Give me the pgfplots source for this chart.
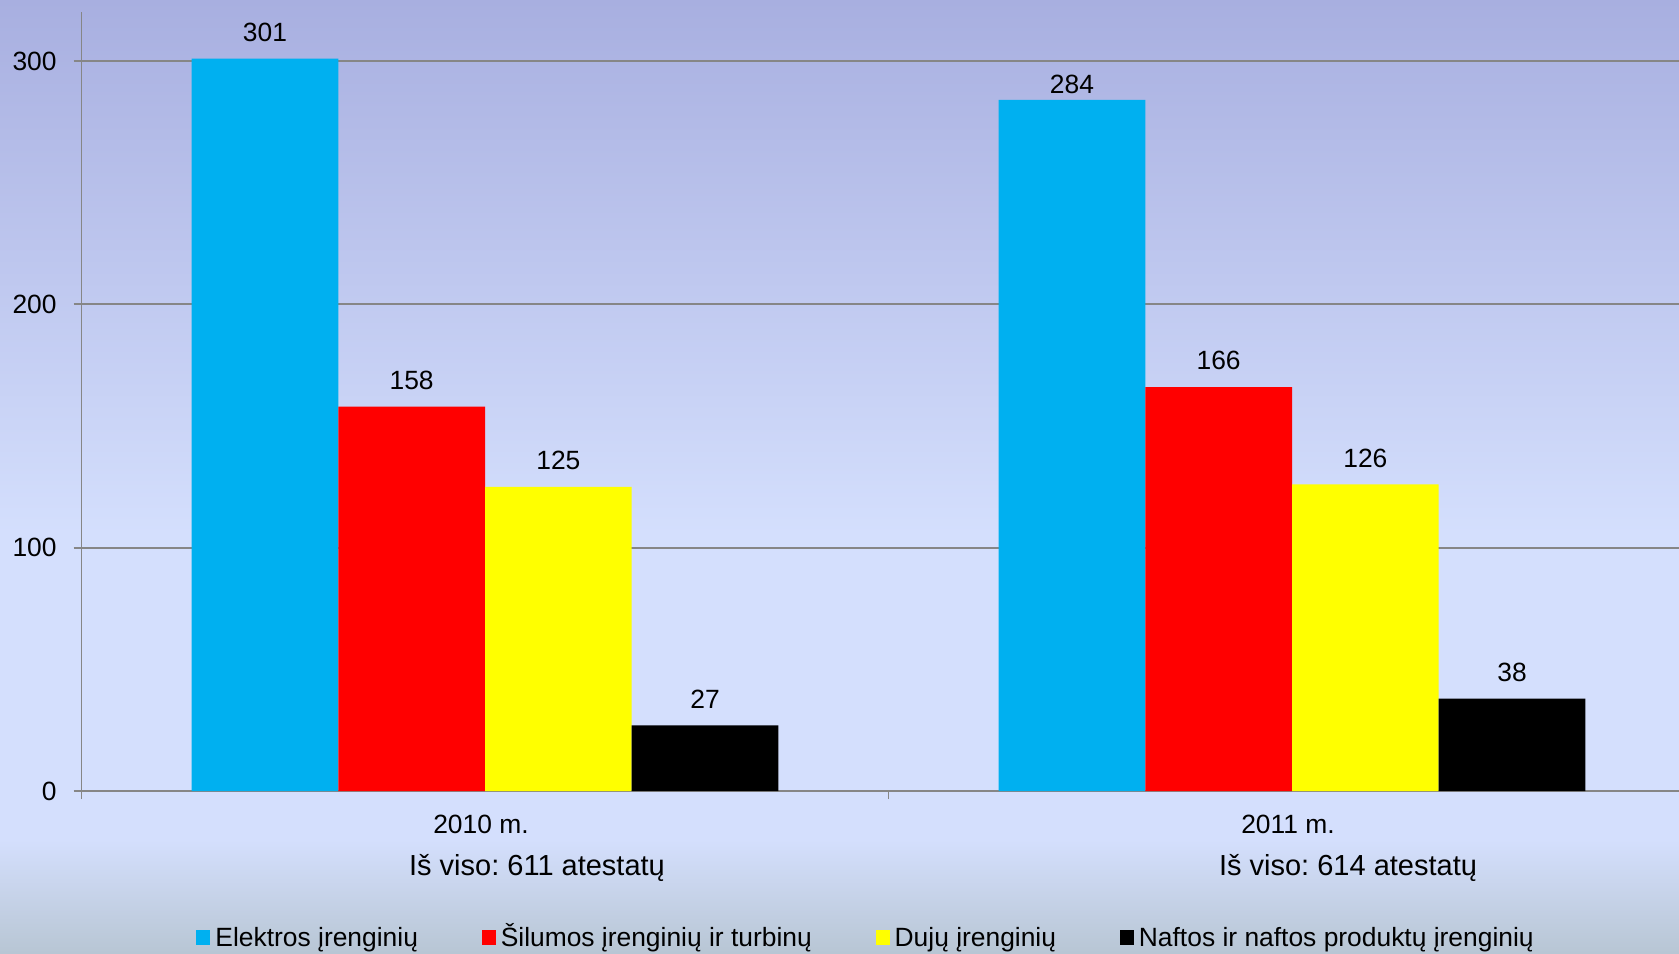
\documentclass[border=0pt]{standalone}
\usepackage{fontspec}
\setmainfont{Liberation Sans}
\usepackage{pgfplots}
\pgfplotsset{compat=1.18}
\definecolor{cBlue}{HTML}{00B0F0}
\definecolor{cRed}{HTML}{FF0000}
\definecolor{cYellow}{HTML}{FFFF00}
\definecolor{cBlack}{HTML}{000000}
\definecolor{bgTop}{RGB}{168,175,224}
\definecolor{bgMid}{RGB}{212,223,253}
\definecolor{bgBot}{RGB}{184,198,212}
\definecolor{gridgray}{RGB}{134,134,134}
\newcommand{\fs}{\fontsize{13.2}{15.8}\selectfont}
\newcommand{\fb}{\fontsize{14.5}{17.4}\selectfont}
\frenchspacing
\begin{document}
\frenchspacing
\begin{tikzpicture}
\useasboundingbox (0,0) rectangle (839.5pt,476.5pt);
\shade[top color=bgTop, bottom color=bgMid] (0,209pt) rectangle (839.5pt,476.5pt);
\fill[bgMid] (0,56.5pt) rectangle (839.5pt,209.2pt);
\shade[top color=bgMid, bottom color=bgBot] (0,0) rectangle (839.5pt,56.7pt);
\begin{axis}[
  at={(40.75pt,81pt)}, anchor=south west,
  scale only axis, width=807pt, height=389.35pt,
  xmin=-0.5, xmax=1.5, ymin=0, ymax=320,
  clip mode=individual,
  ybar=0pt, bar width=0.1818,
  axis x line*=bottom, axis y line*=left,
  axis line style={gridgray, line width=0.9pt, -},
  tick style={gridgray, line width=0.9pt},
  major tick length=4pt, tick align=outside,
  xtick={-0.5,0.5,1.5}, xticklabels={},
  ytick={0,100,200,300},
  ymajorgrids, grid style={gridgray, line width=0.9pt},
  /pgf/number format/assume math mode=true,
  yticklabel style={font=\fs, inner sep=0pt, xshift=-8.25pt},
  nodes near coords,
  nodes near coords style={font=\fs, anchor=south, inner sep=0pt, yshift=8.25pt, text=black},
  legend columns=4,
  legend image code/.code={\fill[#1] (0pt,1pt) rectangle (7pt,8.3pt);},
  legend style={at={(0.0710,-0.187)}, anchor=west, draw=none, fill=none, inner sep=0pt,
    font=\fs, cells={anchor=base west}, nodes={inner sep=0pt},
    /tikz/every odd column/.append style={column sep=2.5pt},
    /tikz/every even column/.append style={column sep=31.9pt}},
]
\addplot[fill=cBlue, draw=none,
  visualization depends on={\thisrow{s} \as \lshift},
  nodes near coords style={yshift=\lshift pt}]
  table[row sep=\\] {x y s\\ 0 301 0\\ 1 284 -5.35\\};
\addlegendentry{Elektros įrenginių}
\addplot[fill=cRed, draw=none] coordinates {(0,158) (1,166)};
\addlegendentry{Šilumos įrenginių ir turbinų}
\addplot[fill=cYellow, draw=none] coordinates {(0,125) (1,126)};
\addlegendentry{Dujų įrenginių}
\addplot[fill=cBlack, draw=none] coordinates {(0,27) (1,38)};
\addlegendentry{Naftos ir naftos produktų įrenginių}
\node[anchor=base, font=\fs, xshift=-2pt, yshift=-21pt] at (axis cs:0,0) {2010 m.};
\node[anchor=base, font=\fs, xshift=-2pt, yshift=-21pt] at (axis cs:1,0) {2011 m.};
\node[anchor=base, font=\fb, xshift=26pt, yshift=-42pt] at (axis cs:0,0) {Iš viso: 611 atestatų};
\node[anchor=base, font=\fb, xshift=28pt, yshift=-42pt] at (axis cs:1,0) {Iš viso: 614 atestatų};
\end{axis}
\end{tikzpicture}
\end{document}
